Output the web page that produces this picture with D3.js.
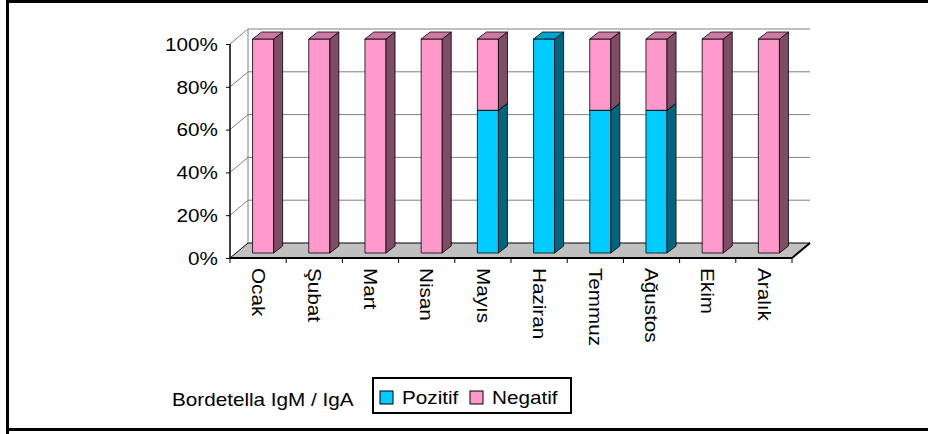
<!DOCTYPE html>
<html>
<head>
<meta charset="utf-8">
<script src="https://cdn.jsdelivr.net/npm/d3@7"></script>
<style>
  body { margin: 0; background: #fff; }
  svg text { font-family: "Liberation Sans", Arial, sans-serif; fill: #000; }
</style>
</head>
<body>
<svg id="canvas" width="928" height="434"></svg>
<script>
const categories = ["Ocak", "Şubat", "Mart", "Nisan", "Mayıs", "Haziran", "Temmuz", "Ağustos", "Ekim", "Aralık"];
const pozitif = [0, 0, 0, 0, 66.7, 100, 66.7, 66.7, 0, 0];
const negatif = [100, 100, 100, 100, 33.3, 0, 33.3, 33.3, 100, 100];
const yTicks = [0, 20, 40, 60, 80, 100];
const seriesNames = ["Pozitif", "Negatif"];

const svg = d3.select("#canvas");
const stretch = 1.15;
const depth = { dx: 18, dy: -15 };
const barOff = { dx: 5, dy: -5 };
const barDepth = { dx: 9, dy: -7 };

const colors = {
    Pozitif: { front: "#00CCFF", side: "#006680", top: "#00A3CC" },
    Negatif: { front: "#FF99CC", side: "#7F4C66", top: "#CC7AA3" }
};

const x = d3.scaleBand().domain(categories).range([230, 792]);
const y = d3.scaleLinear().domain([0, 100]).range([258, 44]);

// outer frame
svg.append("path")
    .attr("d", "M7.5,434 V1.5 H930 M7,429.5 H930")
    .attr("fill", "none")
    .attr("stroke", "#000")
    .attr("stroke-width", 3);

drawWalls();
drawBars();
drawAxes();
drawLegend();

function drawWalls() {
    const [x0, x1] = x.range();
    const g = svg.append("g");

    // floor
    g.append("path")
        .attr("d", `M${x0},${y(0)} L${x1},${y(0)} L${x1 + depth.dx},${y(0) + depth.dy} L${x0 + depth.dx},${y(0) + depth.dy} Z`)
        .attr("fill", "#C0C0C0")
        .attr("stroke", "#000")
        .attr("stroke-width", 1);

    // gridlines on back wall and side wall
    yTicks.filter(d => d > 0).forEach(d => {
        g.append("path")
            .attr("d", `M${x0},${y(d)} L${x0 + depth.dx},${y(d) + depth.dy} L${x1 + depth.dx},${y(d) + depth.dy}`)
            .attr("fill", "none")
            .attr("stroke", d === 100 ? "#808080" : "#808080")
            .attr("stroke-width", 1);
    });

    // back wall left edge
    g.append("line")
        .attr("x1", x0 + depth.dx).attr("y1", y(100) + depth.dy)
        .attr("x2", x0 + depth.dx).attr("y2", y(0) + depth.dy)
        .attr("stroke", "#808080");

    // thick front edge of floor
    g.append("line")
        .attr("x1", x0).attr("y1", y(0))
        .attr("x2", x1).attr("y2", y(0))
        .attr("stroke", "#000").attr("stroke-width", 2);
    g.append("line")
        .attr("x1", x1).attr("y1", y(0))
        .attr("x2", x1 + depth.dx).attr("y2", y(0) + depth.dy)
        .attr("stroke", "#000").attr("stroke-width", 2);
}

function drawBars() {
    const w = x.bandwidth() * 0.375;
    const g = svg.append("g").attr("stroke", "#000").attr("stroke-width", 0.8).attr("stroke-linejoin", "round");

    categories.forEach((c, i) => {
        const cx = x(c) + x.bandwidth() / 2 + barOff.dx;
        const left = cx - w / 2;
        const right = cx + w / 2;
        let base = 0;
        [pozitif[i], negatif[i]].forEach((v, s) => {
            if (v <= 0) return;
            const col = colors[seriesNames[s]];
            const yb = y(base) + barOff.dy;
            const yt = y(base + v) + barOff.dy;
            g.append("rect")
                .attr("x", left).attr("y", yt)
                .attr("width", right - left).attr("height", yb - yt)
                .attr("fill", col.front);
            g.append("path")
                .attr("d", `M${right},${yb} L${right + barDepth.dx},${yb + barDepth.dy} L${right + barDepth.dx},${yt + barDepth.dy} L${right},${yt} Z`)
                .attr("fill", col.side);
            g.append("path")
                .attr("d", `M${left},${yt} L${left + barDepth.dx},${yt + barDepth.dy} L${right + barDepth.dx},${yt + barDepth.dy} L${right},${yt} Z`)
                .attr("fill", col.top);
            base += v;
        });
    });
}

function drawAxes() {
    const [x0, x1] = x.range();

    const yAxis = svg.append("g")
        .attr("transform", `translate(${x0},0)`)
        .call(d3.axisLeft(y).tickValues(yTicks).tickFormat(d => d + "%").tickSize(4).tickPadding(8));
    yAxis.select(".domain").attr("stroke", "#000").attr("stroke-width", 1.5).attr("d", `M0,${y(0)}V${y(100)}`);
    yAxis.selectAll(".tick line").attr("stroke", "#000");
    yAxis.selectAll(".tick text")
        .attr("font-size", 18)
        .attr("font-family", "'Liberation Sans', Arial, sans-serif")
        .attr("x", 0)
        .attr("dy", "0.35em")
        .attr("transform", `translate(-12,0) scale(${stretch},1)`);

    // category ticks on band boundaries
    const g = svg.append("g");
    categories.forEach((c, i) => {
        g.append("line")
            .attr("x1", x(c)).attr("x2", x(c))
            .attr("y1", y(0)).attr("y2", y(0) + 5)
            .attr("stroke", "#000");
    });
    g.append("line")
        .attr("x1", x1).attr("x2", x1)
        .attr("y1", y(0)).attr("y2", y(0) + 5)
        .attr("stroke", "#000");

    g.selectAll("text.cat")
        .data(categories)
        .join("text")
        .attr("class", "cat")
        .attr("font-size", 18)
        .attr("dy", "0.35em")
        .attr("transform", d => `translate(${x(d) + x.bandwidth() / 2},${y(0) + 10}) rotate(90) scale(${stretch},1)`)
        .text(d => d);
}

function drawLegend() {
    svg.append("text")
        .attr("font-size", 18)
        .attr("transform", `translate(172,406) scale(${stretch},1)`)
        .text("Bordetella IgM / IgA");

    const lg = svg.append("g");
    lg.append("rect")
        .attr("x", 373).attr("y", 378)
        .attr("width", 198).attr("height", 35)
        .attr("fill", "#fff")
        .attr("stroke", "#000")
        .attr("stroke-width", 2);

    const items = [
        { name: seriesNames[0], sx: 380, tx: 402 },
        { name: seriesNames[1], sx: 470, tx: 492 }
    ];
    items.forEach(it => {
        lg.append("rect")
            .attr("x", it.sx).attr("y", 391)
            .attr("width", 13).attr("height", 13)
            .attr("fill", colors[it.name].front)
            .attr("stroke", "#000");
        lg.append("text")
            .attr("font-size", 18)
            .attr("transform", `translate(${it.tx},404) scale(${stretch},1)`)
            .text(it.name);
    });
}
</script>
</body>
</html>
